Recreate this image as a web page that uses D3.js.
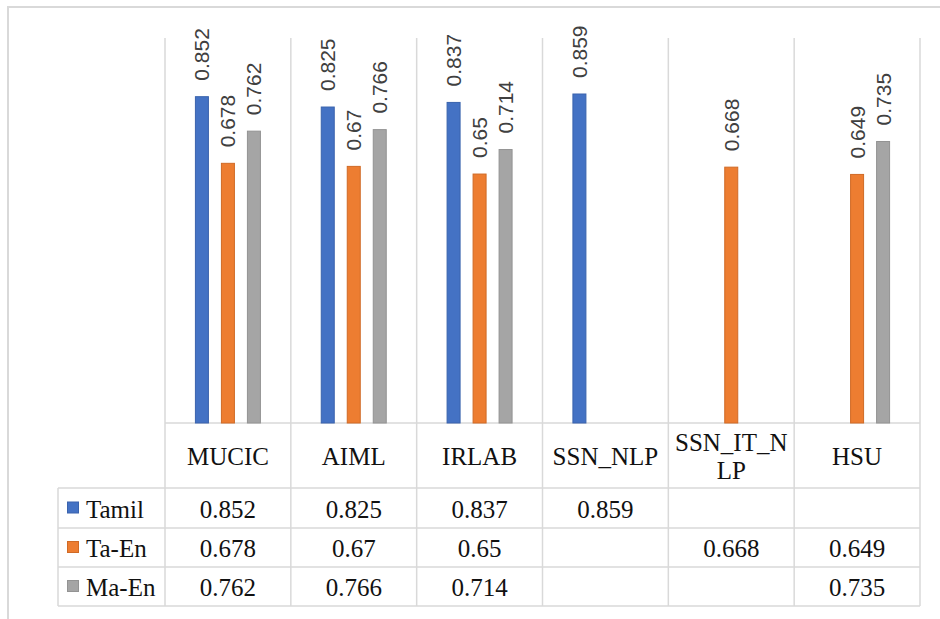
<!DOCTYPE html>
<html>
<head>
<meta charset="utf-8">
<script src="https://cdn.jsdelivr.net/npm/d3@7"></script>
<style>
  html, body { margin: 0; padding: 0; background: #fff; }
  svg { display: block; }
</style>
</head>
<body>
<svg id="chart" width="940" height="619"></svg>
<script>
const categories = ["MUCIC", "AIML", "IRLAB", "SSN_NLP", "SSN_IT_NLP", "HSU"];
const seriesNames = ["Tamil", "Ta-En", "Ma-En"];
const tamil = [0.852, 0.825, 0.837, 0.859, null, null];
const taEn  = [0.678, 0.67, 0.65, null, 0.668, 0.649];
const maEn  = [0.762, 0.766, 0.714, null, null, 0.735];
const seriesColors = ["#4472C4", "#ED7D31", "#A5A5A5"];
const seriesStroke = ["#3A63AD", "#D06A26", "#939393"];

const seriesValues = [tamil, taEn, maEn];

const svg = d3.select("#chart");
const gridColor = "#d9d9d9";

// outer border
svg.append("rect")
  .attr("x", 8).attr("y", 7).attr("width", 960).attr("height", 640)
  .attr("fill", "none").attr("stroke", gridColor).attr("stroke-width", 2);

const plotLeft = 165, plotRight = 920;
const plotTop = 38, baseY = 423;
const headerBottom = 488;
const rowYs = [488, 528, 567, 606];
const legendLeft = 58;

const x = d3.scaleBand().domain(categories).range([plotLeft, plotRight]).padding(0);
const xInner = d3.scaleBand().domain(seriesNames).range([-39, 39]).paddingInner(0.5).paddingOuter(0.25);
const y = d3.scaleLinear().domain([0, 1]).range([baseY, 40]);

// vertical lines (category boundaries)
const boundaries = categories.map(c => x(c)).concat([plotRight]);
svg.append("g").selectAll("line").data(boundaries).join("line")
  .attr("x1", d => d).attr("x2", d => d)
  .attr("y1", plotTop).attr("y2", rowYs[3])
  .attr("stroke", gridColor).attr("stroke-width", 1.5);

// legend column left line
svg.append("line")
  .attr("x1", legendLeft).attr("x2", legendLeft)
  .attr("y1", rowYs[0]).attr("y2", rowYs[3])
  .attr("stroke", gridColor).attr("stroke-width", 1.5);

// horizontal lines
svg.append("line")
  .attr("x1", plotLeft).attr("x2", plotRight)
  .attr("y1", baseY).attr("y2", baseY)
  .attr("stroke", gridColor).attr("stroke-width", 1.5);
svg.append("g").selectAll("line").data(rowYs).join("line")
  .attr("x1", legendLeft).attr("x2", plotRight)
  .attr("y1", d => d).attr("y2", d => d)
  .attr("stroke", gridColor).attr("stroke-width", 1.5);

// bars + labels
const barData = [];
categories.forEach((c, i) => {
  seriesNames.forEach((s, j) => {
    const v = seriesValues[j][i];
    if (v !== null && v !== undefined) barData.push({ c, s, j, v });
  });
});

const barG = svg.append("g");
barG.selectAll("rect").data(barData).join("rect")
  .attr("x", d => x(d.c) + x.bandwidth() / 2 + xInner(d.s))
  .attr("y", d => y(d.v))
  .attr("width", xInner.bandwidth())
  .attr("height", d => baseY - y(d.v))
  .attr("fill", d => seriesColors[d.j])
  .attr("stroke", d => seriesStroke[d.j])
  .attr("stroke-width", 1);

barG.selectAll("text").data(barData).join("text")
  .attr("transform", d => {
    const cx = x(d.c) + x.bandwidth() / 2 + xInner(d.s) + xInner.bandwidth() / 2;
    return `translate(${cx},${y(d.v) - 16}) rotate(-90)`;
  })
  .attr("text-anchor", "start")
  .attr("dominant-baseline", "central")
  .style("font-family", "'Liberation Sans', Arial, sans-serif")
  .style("font-size", "21px")
  .attr("fill", "#404040")
  .text(d => String(d.v));

// category headers with wrapping
const serif = "'Liberation Serif', 'Times New Roman', serif";
const headerG = svg.append("g");
categories.forEach(c => {
  const cx = x(c) + x.bandwidth() / 2;
  const t = headerG.append("text")
    .attr("text-anchor", "middle")
    .style("font-family", serif)
    .style("font-size", "25px")
    .attr("fill", "#111");
  // char-level wrap
  const maxW = x.bandwidth() - 8;
  const lines = [];
  let cur = "";
  const probe = t.append("tspan");
  for (const ch of c) {
    probe.text(cur + ch);
    if (probe.node().getComputedTextLength() > maxW && cur.length) {
      lines.push(cur); cur = ch;
    } else cur += ch;
  }
  lines.push(cur);
  probe.remove();
  const lh = 28;
  const midY = (baseY + headerBottom) / 2 + 1;
  lines.forEach((ln, k) => {
    t.append("tspan")
      .attr("x", cx)
      .attr("y", midY + (k - (lines.length - 1) / 2) * lh)
      .attr("dominant-baseline", "central")
      .text(ln);
  });
});

// legend rows and table values
const tableG = svg.append("g");
seriesNames.forEach((s, j) => {
  const cy = (rowYs[j] + rowYs[j + 1]) / 2;
  tableG.append("rect")
    .attr("x", 67.5).attr("y", cy - 6).attr("width", 11).attr("height", 11)
    .attr("fill", seriesColors[j]).attr("stroke", seriesStroke[j]).attr("stroke-width", 1);
  tableG.append("text")
    .attr("x", 86).attr("y", cy + 1)
    .attr("dominant-baseline", "central")
    .style("font-family", serif).style("font-size", "25px")
    .attr("fill", "#111")
    .text(s);
  categories.forEach((c, i) => {
    const v = seriesValues[j][i];
    if (v === null || v === undefined) return;
    tableG.append("text")
      .attr("x", x(c) + x.bandwidth() / 2)
      .attr("y", cy + 1)
      .attr("text-anchor", "middle")
      .attr("dominant-baseline", "central")
      .style("font-family", serif).style("font-size", "25px")
      .attr("fill", "#111")
      .text(String(v));
  });
});
</script>
</body>
</html>
